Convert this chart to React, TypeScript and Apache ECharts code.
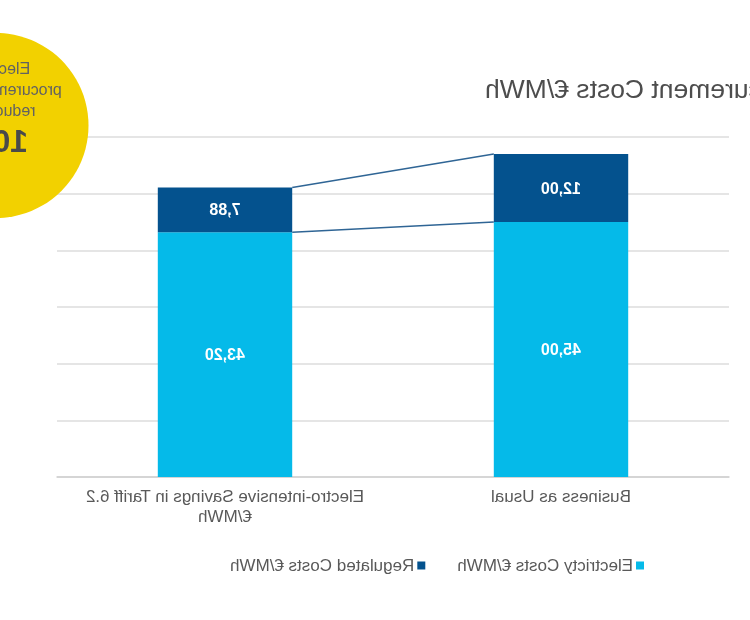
import React, { useEffect, useRef } from "react";
import * as echarts from "echarts";

const categories = ["Business as Usual", "Electro-intensive Savings in Tariff 6.2\n€/MWh"];
const electricityCosts = [45.0, 43.2];
const regulatedCosts = [12.0, 7.88];
const seriesNames = ["Electricty Costs €/MWh", "Regulated Costs €/MWh"];
const titleText = "Electricity Procurement Costs €/MWh";
const badgeLines = ["Electricity", "procurement costs", "reduced by"];
const badgeValue = "10%";

const FONT = "'Liberation Sans', Arial, Helvetica, sans-serif";
const LIGHT = "#05BAE9";
const DARK = "#04528E";

const fmt = (v: number) => v.toFixed(2).replace(".", ",");

export default function App() {
  const ref = useRef<HTMLDivElement>(null);
  useEffect(() => {
    if (!ref.current) return;
    const chart = echarts.init(ref.current, undefined, { renderer: "svg" });
    const totals = electricityCosts.map((v, i) => v + regulatedCosts[i]);
    const labelStyle = {
      show: true,
      position: "inside",
      color: "#ffffff",
      fontWeight: "bold",
      fontSize: 16,
      fontFamily: FONT,
      formatter: (p: any) => fmt(p.value),
    };
    chart.setOption({
      animation: false,
      textStyle: { fontFamily: FONT },
      grid: { left: 21, right: 57, top: 137, bottom: 143, containLabel: false },
      legend: {
        left: 101,
        top: 552,
        icon: "rect",
        itemWidth: 8,
        itemHeight: 8,
        itemGap: 32,
        textStyle: { color: "#595959", fontSize: 17, fontFamily: FONT, padding: [0, 0, 0, -2] },
        data: seriesNames,
      },
      xAxis: {
        type: "category",
        data: categories,
        axisLine: { lineStyle: { color: "#d0d0d0", width: 1.5 } },
        axisTick: { show: false },
        axisLabel: {
          interval: 0,
          color: "#595959",
          fontSize: 17,
          lineHeight: 20,
          margin: 9,
          fontFamily: FONT,
        },
      },
      yAxis: {
        type: "value",
        min: 0,
        max: 60,
        interval: 10,
        axisLabel: { show: false },
        axisLine: { show: false },
        axisTick: { show: false },
        splitLine: { lineStyle: { color: "#dcdcdc", width: 1.5 } },
      },
      series: [
        {
          name: seriesNames[0],
          type: "bar",
          stack: "cost",
          barWidth: "40%",
          data: electricityCosts,
          itemStyle: { color: LIGHT },
          label: labelStyle,
        },
        {
          name: seriesNames[1],
          type: "bar",
          stack: "cost",
          barWidth: "40%",
          data: regulatedCosts,
          itemStyle: { color: DARK },
          label: labelStyle,
        },
        {
          type: "custom",
          z: 5,
          silent: true,
          data: [[0, totals[0]]],
          renderItem: (params: any, api: any) => {
            const bw = api.size([1, 0])[0] * 0.4;
            const a1 = api.coord([0, totals[0]]);
            const b1 = api.coord([1, totals[1]]);
            const a2 = api.coord([0, electricityCosts[0]]);
            const b2 = api.coord([1, electricityCosts[1]]);
            const style = { stroke: "#2F6595", lineWidth: 1.5 };
            return {
              type: "group",
              children: [
                { type: "line", shape: { x1: a1[0] + bw / 2, y1: a1[1], x2: b1[0] - bw / 2, y2: b1[1] }, style },
                { type: "line", shape: { x1: a2[0] + bw / 2, y1: a2[1], x2: b2[0] - bw / 2, y2: b2[1] }, style },
              ],
            };
          },
        },
      ],
      graphic: [
        {
          type: "text",
          x: 265,
          y: 89,
          style: {
            text: titleText,
            align: "right",
            verticalAlign: "middle",
            fill: "#4d4d4d",
            fontSize: 26.5,
            fontFamily: FONT,
          },
        },
        {
          type: "circle",
          z: 10,
          shape: { cx: 754, cy: 125.5, r: 92.5 },
          style: { fill: "#F2D100" },
        },
        ...badgeLines.map((t, i) => ({
          type: "text",
          z: 11,
          x: 754,
          y: 68 + i * 21,
          style: {
            text: t,
            align: "center",
            verticalAlign: "middle",
            fill: "#626262",
            fontSize: 16,
            fontFamily: FONT,
          },
        })),
        {
          type: "text",
          z: 11,
          x: 754,
          y: 141,
          style: {
            text: badgeValue,
            align: "center",
            verticalAlign: "middle",
            fill: "#4a4a4a",
            fontSize: 32,
            fontWeight: "bold",
            fontFamily: FONT,
          },
        },
      ],
    });
    return () => chart.dispose();
  }, []);
  return (
    <div
      ref={ref}
      style={{
        position: "fixed",
        left: 0,
        top: 0,
        width: 750,
        height: 620,
        transform: "scaleX(-1)",
        background: "#ffffff",
      }}
    />
  );
}
